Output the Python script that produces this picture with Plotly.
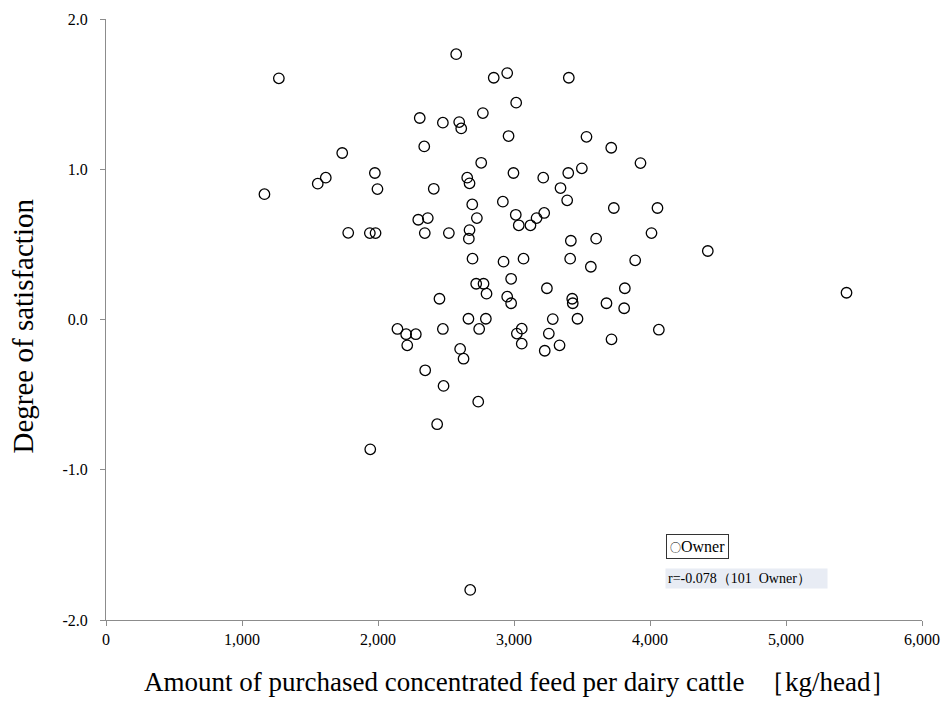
import plotly.graph_objects as go

# Owner data: purchased concentrated feed (kg/head) vs degree of satisfaction
feed_kg = [1271, 1165, 1557, 1616, 1737, 1781, 1940, 1982, 1977, 1996,
           1943, 2143, 2207, 2278, 2215, 2296, 2366, 2307, 2340, 2344,
           2347, 2410, 2435, 2452, 2477, 2477, 2482, 2521, 2575, 2597,
           2612, 2604, 2629, 2656, 2673, 2673, 2668, 2665, 2678, 2693,
           2695, 2722, 2727, 2737, 2744, 2759, 2771, 2776, 2798, 2793,
           2851, 2918, 2923, 2950, 2950, 2960, 2979, 2979, 2996, 3013,
           3016, 3035, 3021, 3057, 3057, 3070, 3121, 3166, 3215, 3222,
           3226, 3242, 3256, 3285, 3335, 3342, 3391, 3399, 3403, 3413,
           3418, 3428, 3432, 3467, 3499, 3533, 3565, 3604, 3680, 3715,
           3717, 3734, 3810, 3815, 3891, 3930, 4011, 4055, 4065, 4425,
           5445]
satisfaction = [1.605, 0.834, 0.904, 0.944, 1.108, 0.577, 0.575, 0.575, 0.975, 0.868,
                -0.864, -0.063, -0.098, -0.098, -0.172, 0.664, 0.675, 1.341, 1.152, 0.575,
                -0.338, 0.870, -0.697, 0.138, 1.310, -0.063, -0.442, 0.575, 1.766, 1.314,
                1.272, -0.196, -0.261, 0.944, 0.906, 0.595, 0.538, 0.005, -1.800, 0.766,
                0.405, 0.238, 0.675, -0.547, -0.063, 1.043, 1.374, 0.238, 0.172, 0.005,
                1.609, 0.784, 0.385, 1.640, 0.152, 1.221, 0.271, 0.108, 0.975, 0.697,
                1.443, 0.627, -0.094, -0.061, -0.161, 0.405, 0.627, 0.675, 0.944, 0.709,
                -0.208, 0.208, -0.094, 0.003, -0.172, 0.875, 0.793, 0.975, 1.609, 0.405,
                0.524, 0.138, 0.108, 0.005, 1.006, 1.216, 0.351, 0.538, 0.108, 1.143,
                -0.132, 0.742, 0.075, 0.208, 0.394, 1.041, 0.575, 0.742, -0.068, 0.456,
                0.178]

x_tickvals = [0, 1000, 2000, 3000, 4000, 5000, 6000]
x_ticktext = ["0", "1,000", "2,000", "3,000", "4,000", "5,000", "6,000"]
y_tickvals = [-2, -1, 0, 1, 2]
y_ticktext = ["-2.0", "-1.0", "0.0", "1.0", "2.0"]

x_title = "Amount of purchased concentrated feed per dairy cattle  \uff3bkg/head\uff3d"
y_title = "Degree of satisfaction"
legend_symbol = "\u25cb"
legend_name = "Owner"
r_label = "r=-0.078\uff08101  Owner\uff09"

SERIF = "Liberation Serif, Times New Roman, serif"
CJK = "Noto Sans CJK JP"

fig = go.Figure()
fig.add_trace(go.Scatter(
    x=feed_kg, y=satisfaction, mode="markers", name=legend_name,
    marker=dict(symbol="circle-open", size=10.5, color="black",
                line=dict(width=1.3, color="black")),
    showlegend=False,
))

axis_common = dict(showline=True, linecolor="#8c8c8c", linewidth=1,
                   ticks="outside", ticklen=5, tickcolor="#8c8c8c",
                   showgrid=False, zeroline=False, automargin=False,
                   tickfont=dict(family=SERIF, size=16, color="black"))

fig.update_xaxes(range=[0, 6000], tickvals=x_tickvals, ticktext=x_ticktext,
                 **axis_common)
fig.update_yaxes(range=[-2, 2], tickvals=y_tickvals, ticktext=y_ticktext,
                 ticklabelstandoff=9, **axis_common)

# axis titles
fig.add_annotation(xref="paper", yref="paper", x=0.508, y=-0.1032,
                   xanchor="center", yanchor="middle", showarrow=False,
                   text=x_title, font=dict(family=SERIF, size=27, color="black"))
fig.add_annotation(xref="paper", yref="paper", x=-0.1017, y=0.4884,
                   xanchor="center", yanchor="middle", showarrow=False, textangle=-90,
                   text=y_title, font=dict(family=SERIF, size=29, color="black"))

# legend box and correlation note
fig.add_annotation(xref="paper", yref="paper", x=0.686, y=0.123,
                   xanchor="left", yanchor="middle", showarrow=False,
                   text=(f"<span style='font-family:{CJK};font-size:11px'>{legend_symbol}</span>"
                         f"{legend_name}"),
                   font=dict(family=SERIF, size=16, color="black"),
                   bordercolor="#333333", borderwidth=1, borderpad=3, bgcolor="white")
fig.add_annotation(xref="paper", yref="paper", x=0.685, y=0.069,
                   xanchor="left", yanchor="middle", showarrow=False,
                   text=r_label + "\u3000", font=dict(family=SERIF, size=14, color="black"),
                   borderpad=2, bgcolor="#e8ecf4", align="left")

fig.update_layout(width=946, height=704,
                  margin=dict(l=106, r=24, t=19, b=84),
                  paper_bgcolor="white", plot_bgcolor="white",
                  font=dict(family=SERIF, color="black"))

fig.write_html("out.html", config={"displayModeBar": False},
               post_script="document.body.style.margin='0';")
